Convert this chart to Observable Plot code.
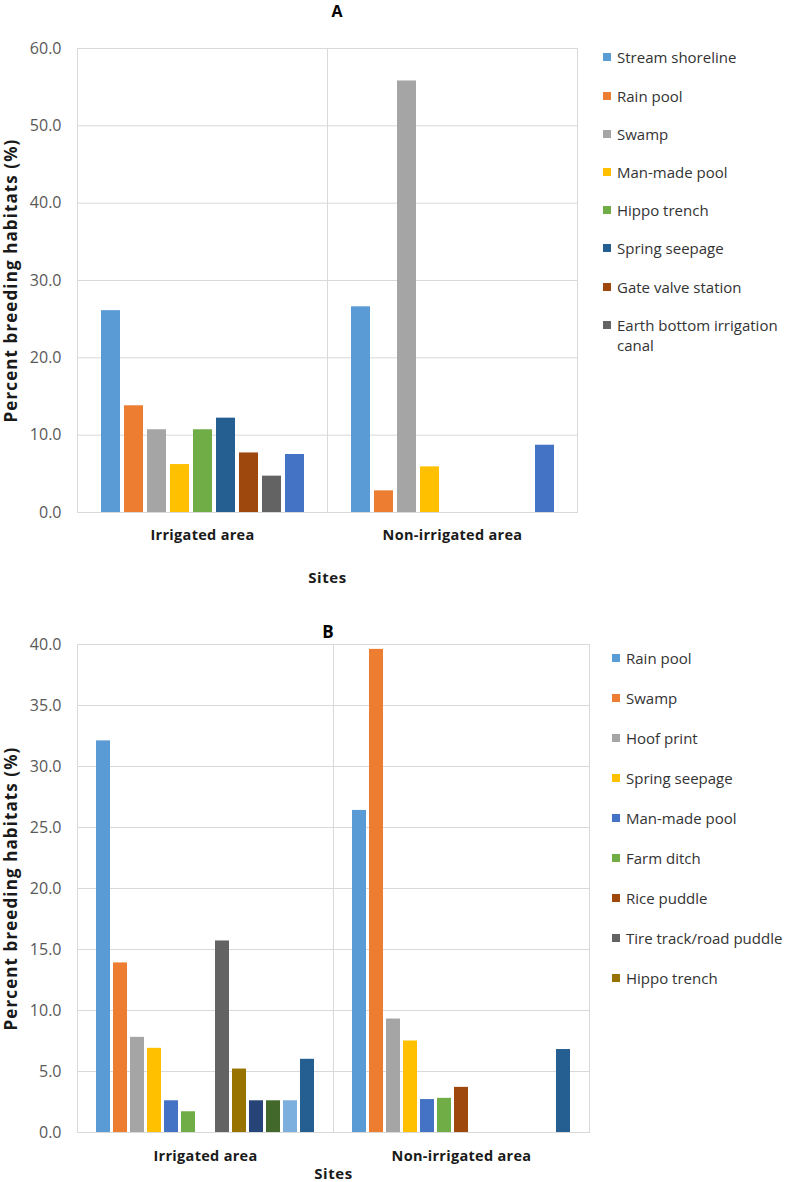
<!DOCTYPE html>
<html>
<head>
<meta charset="utf-8">
<script src="https://cdn.jsdelivr.net/npm/d3@7"></script>
<script src="https://cdn.jsdelivr.net/npm/@observablehq/plot@0.6"></script>
<style>
  body { margin: 0; background: #fff; font-family: "Open Sans", sans-serif; }
  #root { position: relative; width: 787px; height: 1182px; overflow: hidden; background: #fff; }
  .panel { position: absolute; left: 0; }
  .ttl { position: absolute; font-weight: bold; color: #000; z-index: 2; transform: translate(-50%, 0); line-height: 1; }
  .legend { position: absolute; z-index: 2; font-size: 15px; color: #333; }
  .legend .item { position: absolute; left: 0; display: flex; align-items: flex-start; line-height: 20px; }
  .legend .sw { width: 8px; height: 8px; margin-top: 6px; margin-right: 6px; flex: none; }
  .legend .lb { width: 172px; white-space: normal; }
  svg [aria-label="y-axis label"] { letter-spacing: 1.1px; }
  svg [aria-label="fx-axis label"] { letter-spacing: 0.6px; }
  svg [aria-label="fx-axis tick label"] { letter-spacing: 0.3px; }
</style>
</head>
<body>
<div id="root"></div>
<script>
// ---------- data ----------
const sites = ["Irrigated area", "Non-irrigated area"];

// Panel A
const habitatsA = ["Stream shoreline", "Rain pool", "Swamp", "Man-made pool", "Hippo trench",
  "Spring seepage", "Gate valve station", "Earth bottom irrigation canal", "Series 9"];
const legendA = habitatsA.slice(0, 8);
const irrigatedA = [26.1, 13.8, 10.7, 6.2, 10.7, 12.2, 7.7, 4.7, 7.5];
const nonIrrigatedA = [26.6, 2.8, 55.8, 5.9, null, null, null, null, 8.7];
const colorsA = ["#5B9BD5", "#ED7D31", "#A5A5A5", "#FFC000", "#70AD47", "#255E91", "#9E480E", "#636363", "#4472C4"];
const yTicksA = [0, 10, 20, 30, 40, 50, 60];

// Panel B
const habitatsB = ["Rain pool", "Swamp", "Hoof print", "Spring seepage", "Man-made pool", "Farm ditch",
  "Rice puddle", "Tire track/road puddle", "Hippo trench", "Series 10", "Series 11", "Series 12", "Series 13"];
const legendB = habitatsB.slice(0, 9);
const irrigatedB = [32.1, 13.9, 7.8, 6.9, 2.6, 1.7, null, 15.7, 5.2, 2.6, 2.6, 2.6, 6.0];
const nonIrrigatedB = [26.4, 39.6, 9.3, 7.5, 2.7, 2.8, 3.7, null, null, null, null, null, 6.8];
const colorsB = ["#5B9BD5", "#ED7D31", "#A5A5A5", "#FFC000", "#4472C4", "#70AD47", "#9E480E", "#636363",
  "#997300", "#264478", "#43682B", "#7CAFDD", "#255E91"];
const yTicksB = [0, 5, 10, 15, 20, 25, 30, 35, 40];

const yLabel = "Percent breeding habitats (%)";
const xLabel = "Sites";

// ---------- drawing ----------
function makeRows(habitats, irr, non) {
  const rows = [];
  habitats.forEach((h, i) => {
    if (irr[i] != null) rows.push({site: sites[0], habitat: h, value: irr[i]});
    if (non[i] != null) rows.push({site: sites[1], habitat: h, value: non[i]});
  });
  return rows;
}

function chart(habitats, irr, non, colors, ticks, g) {
  const rows = makeRows(habitats, irr, non);
  return Plot.plot({
    width: g.width,
    height: g.height,
    marginLeft: g.left,
    marginRight: g.width - g.right,
    marginTop: g.top,
    marginBottom: g.height - g.bottom,
    style: {fontFamily: "'Open Sans', sans-serif", fontSize: "15px", color: "#595959", background: "transparent", overflow: "visible"},
    fx: {domain: sites, padding: 0},
    x: {domain: habitats, paddingInner: g.pi, paddingOuter: g.po, axis: null},
    y: {domain: [ticks[0], ticks[ticks.length - 1]]},
    color: {domain: habitats, range: colors},
    marks: [
      Plot.gridY(ticks, {stroke: "#d9d9d9", strokeOpacity: 1}),
      Plot.frame({stroke: "#d9d9d9"}),
      Plot.barY(rows, {fx: "site", x: "habitat", y: "value", fill: "habitat"}),
      Plot.axisY(ticks, {tickFormat: d3.format(".1f"), tickSize: 0, tickPadding: 16, fontSize: 16,
        fill: "#595959", label: null}),
      Plot.axisY({ticks: [], tickSize: 0, label: yLabel, labelAnchor: "center", labelArrow: "none",
        labelOffset: 73, fontSize: 17, fontWeight: "bold", fill: "#1a1a1a"}),
      Plot.axisFx({anchor: "bottom", tickSize: 0, tickPadding: g.fxPad, fontSize: 14.5, fontWeight: "bold",
        fill: "#1a1a1a", label: null}),
      Plot.axisFx({anchor: "bottom", ticks: [], tickSize: 0, label: xLabel, labelAnchor: "center",
        labelOffset: g.fxLabelOffset, fontSize: 15, fontWeight: "bold", fill: "#1a1a1a"})
    ]
  });
}

const root = document.getElementById("root");

function panel(svg, top) {
  const d = document.createElement("div");
  d.className = "panel";
  d.style.top = top + "px";
  d.appendChild(svg);
  root.appendChild(d);
}

function title(txt, cx, top, size) {
  const d = document.createElement("div");
  d.className = "ttl";
  d.textContent = txt;
  d.style.left = cx + "px";
  d.style.top = top + "px";
  d.style.fontSize = size + "px";
  root.appendChild(d);
}

function legend(names, colors, left, firstCenter, spacing) {
  const d = document.createElement("div");
  d.className = "legend";
  d.style.left = left + "px";
  d.style.top = "0px";
  names.forEach((n, i) => {
    const it = document.createElement("div");
    it.className = "item";
    it.style.top = (firstCenter + i * spacing - 10) + "px";
    const sw = document.createElement("div");
    sw.className = "sw";
    sw.style.background = colors[i];
    const lb = document.createElement("div");
    lb.className = "lb";
    lb.textContent = n;
    it.appendChild(sw);
    it.appendChild(lb);
    d.appendChild(it);
  });
  root.appendChild(d);
}

panel(chart(habitatsA, irrigatedA, nonIrrigatedA, colorsA, yTicksA,
  {width: 600, height: 600, left: 77, right: 577, top: 48, bottom: 512, pi: 0.19, po: 0.83, fxPad: 17, fxLabelOffset: 70}), 0);
panel(chart(habitatsB, irrigatedB, nonIrrigatedB, colorsB, yTicksB,
  {width: 610, height: 582, left: 77, right: 589, top: 44, bottom: 532, pi: 0.2, po: 0.84, fxPad: 18, fxLabelOffset: 46}), 600);

title("A", 337, 3, 16);
title("B", 328, 623, 17);

legend(legendA, colorsA, 603, 57.3, 38.2);
legend(legendB, colorsB, 612, 658.3, 40);
</script>
</body>
</html>
